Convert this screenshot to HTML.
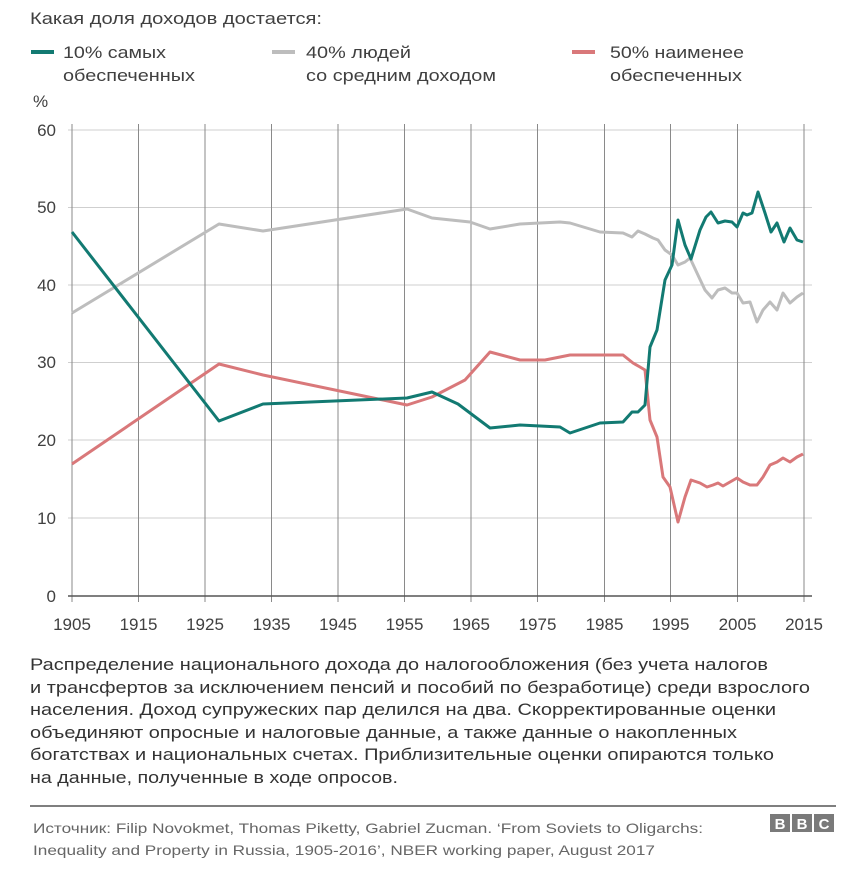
<!DOCTYPE html>
<html><head><meta charset="utf-8"><style>
html,body{margin:0;padding:0;background:#fff;}
svg{display:block;}
text{font-family:"Liberation Sans Narrow","Liberation Sans",sans-serif;}
</style></head><body>
<svg width="851" height="872" viewBox="0 0 851 872" xmlns="http://www.w3.org/2000/svg">
<rect width="851" height="872" fill="#fff"/>
<text x="30" y="24" font-size="17" fill="#404040" textLength="292" lengthAdjust="spacingAndGlyphs">Какая доля доходов достается:</text>
<g font-size="17" fill="#404040">
<line x1="31" y1="52" x2="54" y2="52" stroke="#127a72" stroke-width="4"/>
<text x="63" y="58" textLength="103" lengthAdjust="spacingAndGlyphs">10% самых</text>
<text x="63" y="81" textLength="132" lengthAdjust="spacingAndGlyphs">обеспеченных</text>
<line x1="272" y1="52" x2="295" y2="52" stroke="#bdbdbd" stroke-width="4"/>
<text x="306" y="58" textLength="105" lengthAdjust="spacingAndGlyphs">40% людей</text>
<text x="306" y="81" textLength="190" lengthAdjust="spacingAndGlyphs">со средним доходом</text>
<line x1="572" y1="52" x2="595" y2="52" stroke="#d9787a" stroke-width="4"/>
<text x="610" y="58" textLength="134" lengthAdjust="spacingAndGlyphs">50% наименее</text>
<text x="610" y="81" textLength="132" lengthAdjust="spacingAndGlyphs">обеспеченных</text>
<text x="33" y="107">%</text>
</g>
<g stroke="#cfcfcf" stroke-width="1">
<line x1="68" y1="130" x2="812" y2="130"/>
<line x1="68" y1="207.5" x2="812" y2="207.5"/>
<line x1="68" y1="285" x2="812" y2="285"/>
<line x1="68" y1="362.5" x2="812" y2="362.5"/>
<line x1="68" y1="440" x2="812" y2="440"/>
<line x1="68" y1="518" x2="812" y2="518"/>
</g>
<g stroke="#8a8a8a" stroke-width="1">
<line x1="72" y1="124" x2="72" y2="602"/><line x1="138.5" y1="124" x2="138.5" y2="602"/>
<line x1="205" y1="124" x2="205" y2="602"/><line x1="271.5" y1="124" x2="271.5" y2="602"/>
<line x1="338" y1="124" x2="338" y2="602"/><line x1="404.5" y1="124" x2="404.5" y2="602"/>
<line x1="471" y1="124" x2="471" y2="602"/><line x1="537.5" y1="124" x2="537.5" y2="602"/>
<line x1="604.5" y1="124" x2="604.5" y2="602"/><line x1="670.5" y1="124" x2="670.5" y2="602"/>
<line x1="737.5" y1="124" x2="737.5" y2="602"/><line x1="804" y1="124" x2="804" y2="602"/>
</g>
<line x1="68" y1="596" x2="812" y2="596" stroke="#555" stroke-width="1.5"/>
<g font-size="17" fill="#404040" text-anchor="end">
<text x="56" y="136">60</text><text x="56" y="213">50</text><text x="56" y="291">40</text>
<text x="56" y="368">30</text><text x="56" y="446">20</text><text x="56" y="524">10</text><text x="56" y="602">0</text>
</g>
<g font-size="17" fill="#404040" text-anchor="middle">
<text x="72" y="630">1905</text><text x="138.5" y="630">1915</text><text x="205" y="630">1925</text>
<text x="271.5" y="630">1935</text><text x="338" y="630">1945</text><text x="404.5" y="630">1955</text>
<text x="471" y="630">1965</text><text x="537.5" y="630">1975</text><text x="604.5" y="630">1985</text>
<text x="670.5" y="630">1995</text><text x="737.5" y="630">2005</text><text x="804" y="630">2015</text>
</g>
<g fill="none" stroke-width="3" stroke-linejoin="round">
<polyline stroke="#bdbdbd" points="72,313 219,224 263,231 407,209 432,218 470,222 490,229 520,224 560,222 570,223 600,232 623,233 632,237 638,231 645,234 653,238 658,240 665,250 672,255 678,265 685,262 690,258 697,273 705,290 712,298 718,290 725,288 732,293 737,293 743,303 750,302 757,322 763,310 770,302 777,310 783,293 790,303 797,297 803,293"/>
<polyline stroke="#d9787a" points="72,464 219,364 263,375 407,405 432,397 465,380 490,352 520,360 545,360 570,355 600,355 623,355 633,363 640,367 645,370 650,420 657,437 663,477 670,487 678,522 685,497 691,480 700,483 707,487 713,485 718,483 723,486 730,482 737,478 743,482 750,485 757,485 763,477 770,465 777,462 783,458 790,462 797,457 803,454"/>
<polyline stroke="#127a72" points="72,232 219,421 263,404 407,398 432,392 458,404 490,428 520,425 560,427 570,433 600,423 623,422 632,412 638,412 645,405 650,347 657,330 665,280 672,265 678,220 685,245 691,259 700,230 706,217 711,212 718,223 725,221 732,222 737,227 743,213 747,215 752,213 758,192 765,213 771,232 777,223 784,242 790,228 797,240 803,242"/>
</g>
<g font-size="17" fill="#333">
<text x="30" y="670" textLength="738" lengthAdjust="spacingAndGlyphs">Распределение национального дохода до налогообложения (без учета налогов</text>
<text x="30" y="693" textLength="780" lengthAdjust="spacingAndGlyphs">и трансфертов за исключением пенсий и пособий по безработице) среди взрослого</text>
<text x="30" y="715" textLength="746" lengthAdjust="spacingAndGlyphs">населения. Доход супружеских пар делился на два. Скорректированные оценки</text>
<text x="30" y="738" textLength="707" lengthAdjust="spacingAndGlyphs">объединяют опросные и налоговые данные, а также данные о накопленных</text>
<text x="30" y="760" textLength="744" lengthAdjust="spacingAndGlyphs">богатствах и национальных счетах. Приблизительные оценки опираются только</text>
<text x="30" y="783" textLength="368" lengthAdjust="spacingAndGlyphs">на данные, полученные в ходе опросов.</text>
</g>
<line x1="30" y1="806" x2="836" y2="806" stroke="#555" stroke-width="1.5"/>
<g font-size="14" fill="#666">
<text x="33" y="833" textLength="670" lengthAdjust="spacingAndGlyphs">Источник: Filip Novokmet, Thomas Piketty, Gabriel Zucman. ‘From Soviets to Oligarchs:</text>
<text x="33" y="855" textLength="622" lengthAdjust="spacingAndGlyphs">Inequality and Property in Russia, 1905-2016’, NBER working paper, August 2017</text>
</g>
<g>
<rect x="770" y="814" width="20" height="18" fill="#7a7a7a"/>
<rect x="792" y="814" width="20" height="18" fill="#7a7a7a"/>
<rect x="814" y="814" width="20" height="18" fill="#7a7a7a"/>
<g font-size="15" font-weight="bold" fill="#fff" text-anchor="middle" style="font-family:'Liberation Sans',sans-serif">
<text x="780" y="829">B</text><text x="802" y="829">B</text><text x="824" y="829">C</text>
</g>
</g>
</svg>
</body></html>
